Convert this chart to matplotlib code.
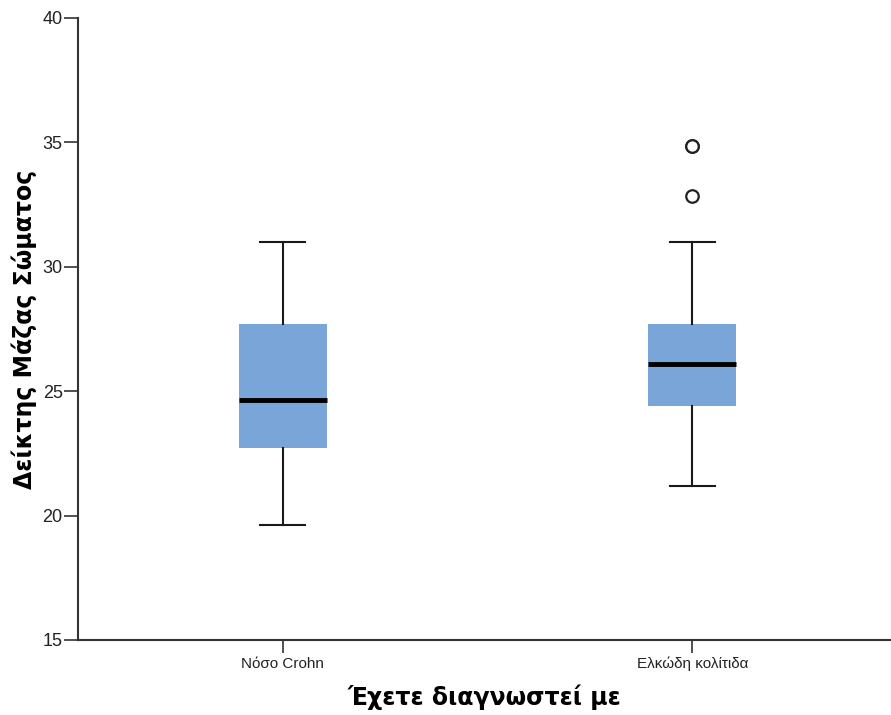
import matplotlib.pyplot as plt

# Δεδομένα (εκτίμηση από το γράφημα)
groups = ["Νόσο Crohn", "Ελκώδη κολίτιδα"]
whislo = [19.6, 21.2]
q1 = [22.7, 24.4]
med = [24.65, 26.1]
q3 = [27.7, 27.7]
whishi = [31.0, 31.0]
fliers = [[], [34.85, 34.85, 32.85]]

plt.rcParams["font.family"] = ["Liberation Sans", "DejaVu Sans"]

fig = plt.figure(figsize=(8.91, 7.15), dpi=100)
ax = fig.add_axes([0.0875, 0.105, 0.9125, 0.87])

stats = []
for i, g in enumerate(groups):
    stats.append(dict(label=g, whislo=whislo[i], q1=q1[i], med=med[i],
                      q3=q3[i], whishi=whishi[i], fliers=fliers[i]))

ax.bxp(stats, positions=[0, 1], widths=0.215, patch_artist=True,
       capwidths=0.11,
       boxprops=dict(facecolor="#79a5d8", edgecolor="none"),
       medianprops=dict(color="black", linewidth=3.5),
       whiskerprops=dict(color="#1a1a1a", linewidth=1.5),
       capprops=dict(color="#1a1a1a", linewidth=1.5),
       flierprops=dict(marker="o", markersize=9, markerfacecolor="white",
                       markeredgecolor="#222222", markeredgewidth=1.6))

ax.set_ylim(15, 40)
ax.set_xlim(-0.5, 1.485)
ax.set_yticks([15, 20, 25, 30, 35, 40])
ax.spines["top"].set_visible(False)
ax.spines["right"].set_visible(False)
for s in ["left", "bottom"]:
    ax.spines[s].set_linewidth(1.5)
    ax.spines[s].set_color("#333333")
ax.tick_params(axis="y", length=10, width=1.2, labelsize=13, colors="#333333",
               labelcolor="#222222", pad=1)
ax.tick_params(axis="x", length=9, width=1.2, labelsize=11, colors="#333333",
               labelcolor="#222222", pad=3)

lab_font = dict(family="DejaVu Sans", fontsize=17, fontweight="bold")
ax.set_ylabel("Δείκτης Μάζας Σώματος", labelpad=4, **lab_font)
ax.set_xlabel("Έχετε διαγνωστεί με", labelpad=10, **lab_font)

plt.savefig("out.png", dpi=100)
